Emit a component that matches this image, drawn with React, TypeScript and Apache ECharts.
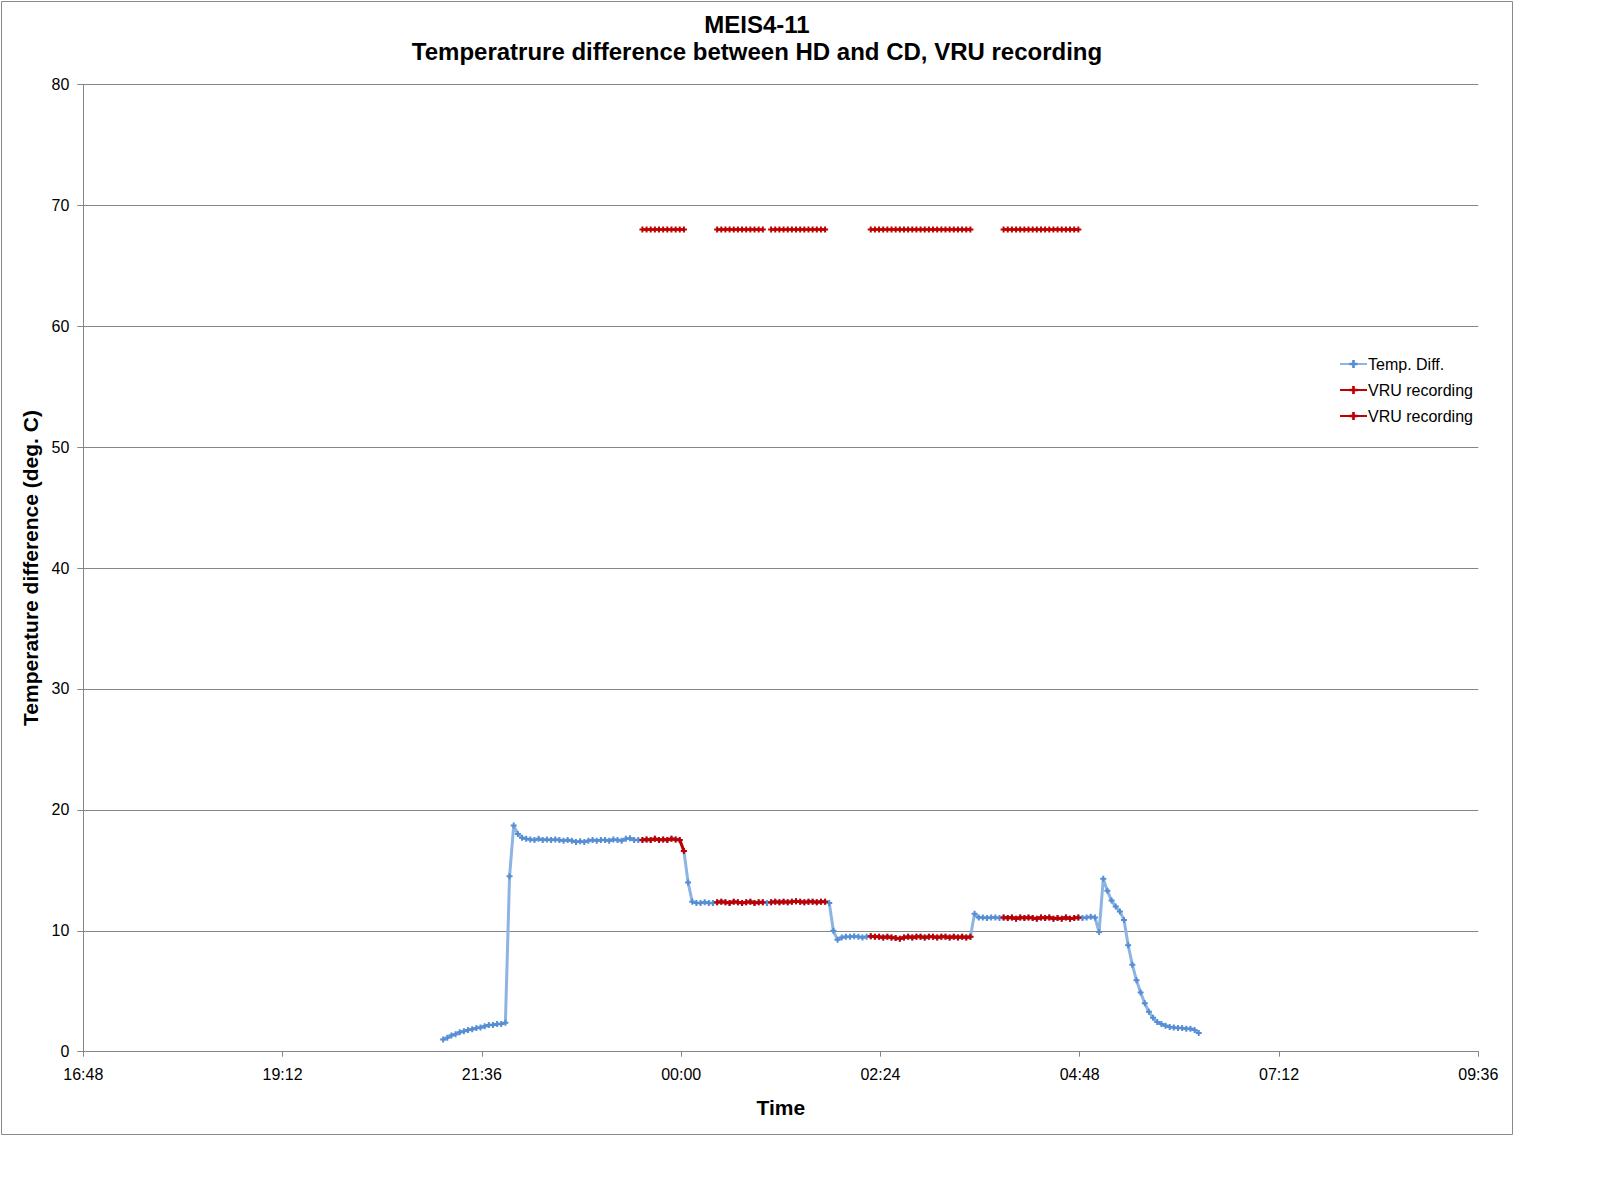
import React, { useEffect, useRef } from "react";
import * as echarts from "echarts";

// ---- data ----
const chartTitle = "MEIS4-11\nTemperatrure difference between HD and CD, VRU recording";
const xAxisName = "Time";
const yAxisName = "Temperature difference (deg. C)";
const seriesNames = ["Temp. Diff.", "VRU recording", "VRU recording "];

// x axis in minutes since midnight of the first day (16:48 .. 09:36 next day)
const xMin = 1008;
const xMax = 2016;
const xInterval = 144;
const yMin = 0;
const yMax = 80;
const yInterval = 10;

// temperature difference samples, first at 21:08, one every 3 minutes
const startMinute = 1268;
const stepMinutes = 3;
const tempDiff = [
  1.0, 1.15, 1.35, 1.45, 1.6, 1.7, 1.8, 1.85, 1.95, 2.0, 2.1, 2.2, 2.2, 2.3, 2.3, 2.4, 14.5, 18.7, 18.0, 17.7, 17.6,
  17.55, 17.5, 17.6, 17.5, 17.55, 17.5, 17.55, 17.5, 17.45, 17.5, 17.45, 17.35, 17.4, 17.35, 17.45, 17.5, 17.45, 17.5,
  17.5, 17.45, 17.55, 17.5, 17.45, 17.6, 17.65, 17.5, 17.5,
  17.5, 17.55, 17.5, 17.6, 17.5, 17.55, 17.5, 17.6, 17.55, 17.5,
  16.6, 14.0, 12.4,
  12.3, 12.3, 12.35, 12.3, 12.3, 12.35, 12.4, 12.35, 12.3, 12.4, 12.35, 12.3, 12.35, 12.4, 12.3, 12.35, 12.35, 12.3,
  12.35, 12.4, 12.35, 12.4, 12.35, 12.4, 12.45, 12.4, 12.35, 12.4, 12.4, 12.35, 12.4, 12.4,
  12.3, 10.0, 9.25,
  9.45, 9.5, 9.5, 9.55, 9.5, 9.45, 9.5,
  9.55, 9.5, 9.5, 9.45, 9.5, 9.45, 9.4, 9.35, 9.45, 9.5, 9.45, 9.5, 9.5, 9.45, 9.5, 9.5, 9.45, 9.5, 9.5, 9.45, 9.5,
  9.45, 9.5, 9.45, 9.5,
  11.4,
  11.1, 11.1, 11.05, 11.1, 11.1, 11.05, 11.1,
  11.05, 11.1, 11.0, 11.1, 11.05, 11.1, 11.05, 11.0, 11.1, 11.05, 11.1, 11.0, 11.05, 11.0, 11.1, 11.0, 11.05, 11.1,
  11.05, 11.1, 11.15, 11.1,
  9.9, 14.3, 13.3,
  12.5, 12.0, 11.6, 10.9, 8.8, 7.2, 5.9, 4.9, 4.0, 3.3, 2.8, 2.45, 2.3, 2.15, 2.05, 2.0, 1.95, 1.95, 1.9, 1.9, 1.8, 1.55,
];

// VRU recording windows [start, end] in minutes since midnight of the first day
const recordingWindows: [number, number][] = [
  [1412, 1444],
  [1466, 1499],
  [1505, 1545],
  [1577, 1650],
  [1673, 1727],
];
const recordingLevel = 68;

const FONT = "Liberation Sans, Arial, sans-serif";
const BLUE_LINE = "#8DB4E2";
const BLUE_MARK = "#558ED5";
const RED = "#C00000";
const GRAY = "#868686";
const PLUS = "path://M2,0H4V2H6V4H4V6H2V4H0V2H2Z";

function fmtTime(v: number): string {
  const m = ((v % 1440) + 1440) % 1440;
  const h = Math.floor(m / 60);
  const mm = Math.round(m % 60);
  return String(h).padStart(2, "0") + ":" + String(mm).padStart(2, "0");
}

export default function App() {
  const ref = useRef<HTMLDivElement>(null);

  useEffect(() => {
    if (!ref.current) return;
    const chart = echarts.init(ref.current, null, { renderer: "svg" });

    const times = tempDiff.map((_, i) => startMinute + i * stepMinutes);
    const inRec = (t: number) => recordingWindows.some(([a, b]) => t >= a && t <= b);
    const blueData = times.map((t, i) => [t, tempDiff[i]]);
    const redLineData = times.map((t, i) => [t, inRec(t) ? tempDiff[i] : "-"]);
    const redTopData = times.map((t) => [t, inRec(t) ? recordingLevel : "-"]);

    chart.setOption({
      animation: false,
      backgroundColor: "#fff",
      title: {
        text: chartTitle,
        left: "center",
        top: 6,
        textStyle: { fontFamily: FONT, fontSize: 24, fontWeight: "bold", color: "#000", lineHeight: 27 },
      },
      legend: {
        orient: "vertical",
        left: 1334,
        top: 351,
        itemWidth: 27,
        itemHeight: 10,
        itemGap: 10,
        formatter: (n: string) => n.trim(),
        textStyle: { fontFamily: FONT, fontSize: 16, color: "#000", padding: [0, 0, 0, -4] },
        data: seriesNames,
      },
      grid: { left: 83.3, top: 84.3, right: 35.7, bottom: 84.3, containLabel: false },
      graphic: [
        {
          type: "rect",
          silent: true,
          z: -10,
          shape: { x: 1.5, y: 1.5, width: 1511, height: 1133 },
          style: { fill: "none", stroke: "#898989", lineWidth: 1 },
        },
      ],
      xAxis: {
        type: "value",
        min: xMin,
        max: xMax,
        interval: xInterval,
        name: xAxisName,
        nameLocation: "middle",
        nameGap: 45,
        nameTextStyle: { fontFamily: FONT, fontSize: 21, fontWeight: "bold", color: "#000" },
        axisLine: { show: true, lineStyle: { color: GRAY } },
        axisTick: { show: true, length: 5, lineStyle: { color: GRAY } },
        splitLine: { show: false },
        axisLabel: { formatter: fmtTime, color: "#000", fontFamily: FONT, fontSize: 16, margin: 15 },
      },
      yAxis: {
        type: "value",
        min: yMin,
        max: yMax,
        interval: yInterval,
        name: yAxisName,
        nameLocation: "middle",
        nameGap: 42,
        nameTextStyle: { fontFamily: FONT, fontSize: 21, fontWeight: "bold", color: "#000" },
        axisLine: { show: true, lineStyle: { color: GRAY } },
        axisTick: { show: true, length: 6, lineStyle: { color: GRAY } },
        splitLine: { show: true, lineStyle: { color: GRAY } },
        axisLabel: { color: "#000", fontFamily: FONT, fontSize: 16, margin: 14 },
      },
      series: [
        {
          name: seriesNames[0],
          type: "line",
          data: blueData,
          symbol: PLUS,
          symbolSize: 6,
          showSymbol: true,
          lineStyle: { color: BLUE_LINE, width: 3 },
          itemStyle: { color: BLUE_MARK },
          z: 2,
        },
        {
          name: seriesNames[1],
          type: "line",
          data: redLineData,
          symbol: PLUS,
          symbolSize: 6,
          connectNulls: false,
          lineStyle: { color: RED, width: 3 },
          itemStyle: { color: RED },
          z: 3,
        },
        {
          name: seriesNames[2],
          type: "line",
          data: redTopData,
          symbol: PLUS,
          symbolSize: 6,
          connectNulls: false,
          lineStyle: { color: RED, width: 2.5 },
          itemStyle: { color: RED },
          z: 3,
        },
      ],
    });

    return () => chart.dispose();
  }, []);

  return (
    <div style={{ position: "absolute", left: 0, top: 0, width: 1598, height: 1202, background: "#fff" }}>
      <div ref={ref} style={{ width: 1514, height: 1136 }} />
    </div>
  );
}
